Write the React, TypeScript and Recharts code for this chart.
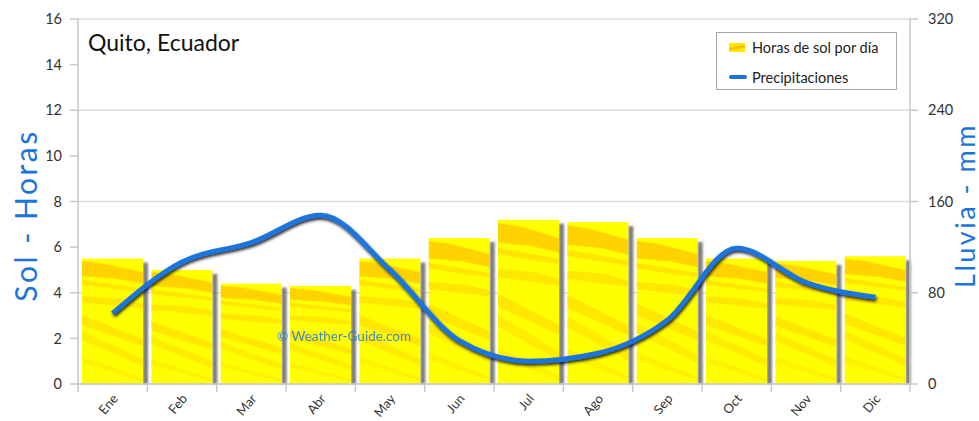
import React from "react";
import {
  ComposedChart,
  Bar,
  Line,
  XAxis,
  YAxis,
  CartesianGrid,
  Legend,
} from "recharts";

const months = ["Ene", "Feb", "Mar", "Abr", "May", "Jun", "Jul", "Ago", "Sep", "Oct", "Nov", "Dic"];
const sunHours = [5.5, 5.0, 4.4, 4.3, 5.5, 6.4, 7.2, 7.1, 6.4, 5.5, 5.4, 5.6];
const rainMm = [62, 107, 124, 148, 100, 38, 20, 27, 56, 119, 89, 76];
const hourTicks = [0, 2, 4, 6, 8, 10, 12, 14, 16];
const rainTicks = [0, 80, 160, 240, 320];

const data = months.map((month, i) => ({ month, sun: sunHours[i], rain: rainMm[i] }));

const WIDTH = 979;
const HEIGHT = 421;
const LEFT_AXIS = 78;
const RIGHT_AXIS = 69;
const BAND = (WIDTH - LEFT_AXIS - RIGHT_AXIS) / months.length;

const BLUE = "#1b74dc";
const FONT = "Lato, 'Open Sans', sans-serif";
const AXIS_GRAY = "#c9c9c9";

// bar with a soft grey drop shadow on its right side
const SunBar = (props: any) => {
  const { x, y, width, height } = props;
  if (!height || height <= 0) return null;
  return (
    <g>
      <rect
        x={x + width}
        y={y + 4}
        width={5}
        height={height - 4}
        fill="#7d7d7d"
        filter="url(#barShadowBlur)"
      />
      <rect x={x} y={y} width={width} height={height} fill="url(#sunFill)" />
    </g>
  );
};

const MonthTick = (props: any) => {
  const { x, y, payload, index } = props;
  const last = index === months.length - 1;
  return (
    <g>
      <line x1={x - BAND / 2} x2={x - BAND / 2} y1={y} y2={y + 8} stroke={AXIS_GRAY} strokeWidth={1.5} />
      {last && (
        <line x1={x + BAND / 2} x2={x + BAND / 2} y1={y} y2={y + 8} stroke={AXIS_GRAY} strokeWidth={1.5} />
      )}
      <text
        x={x + 6}
        y={y + 15}
        textAnchor="end"
        transform={`rotate(-50 ${x + 6} ${y + 15})`}
        fontSize={13}
        fill="#333"
        fontFamily={FONT}
      >
        {payload.value}
      </text>
    </g>
  );
};

// vertical axis title, reading bottom to top
const SideLabel = ({ viewBox, text, dx, dy, size }: any) => {
  const cx = viewBox.x + dx;
  const cy = viewBox.y + viewBox.height / 2 + dy;
  return (
    <text
      x={cx}
      y={cy}
      textAnchor="middle"
      dominantBaseline="central"
      transform={`rotate(-90 ${cx} ${cy})`}
      fontSize={size}
      letterSpacing={2.5}
      fill={BLUE}
      fontFamily={FONT}
    >
      {text}
    </text>
  );
};

const LegendBox = () => (
  <div
    style={{
      width: 181,
      height: 58,
      boxSizing: "border-box",
      border: "1px solid #a8a8a8",
      background: "#fff",
      fontFamily: FONT,
      fontSize: 14.5,
      color: "#222",
      padding: "3px 0 0 12px",
    }}
  >
    <div style={{ display: "flex", alignItems: "center", height: 22 }}>
      <span
        style={{
          display: "inline-block",
          width: 16,
          height: 9,
          marginRight: 7,
          background: "linear-gradient(170deg, #ffe600 0%, #ffe600 35%, #ffb400 50%, #ffe600 70%)",
        }}
      />
      Horas de sol por día
    </div>
    <div style={{ display: "flex", alignItems: "center", height: 22, marginTop: 8 }}>
      <span
        style={{
          display: "inline-block",
          width: 18,
          height: 4,
          marginRight: 5,
          borderRadius: 2,
          background: BLUE,
        }}
      />
      Precipitaciones
    </div>
  </div>
);

export default function App() {
  return (
    <div style={{ position: "relative", width: WIDTH, height: HEIGHT, background: "#fff" }}>
      <style>{"body { margin: 0; }"}</style>
      <ComposedChart
        width={WIDTH}
        height={HEIGHT}
        data={data}
        margin={{ top: 19, right: 0, bottom: 0, left: 0 }}
        barCategoryGap={4}
      >
        <defs>
          <pattern id="sunFill" patternContentUnits="objectBoundingBox" width="1" height="1">
            <rect x="0" y="0" width="1" height="1" fill="#ffff00" />
            <polygon points="0,0.02 0.35,0.04 1,0.11 1,0.2 0.55,0.16 0,0.14" fill="#ffa800" opacity="0.5" />
            <polygon points="0,0.17 1,0.24 1,0.27 0,0.21" fill="#ffb300" opacity="0.35" />
            <polygon points="0,0.3 0.6,0.32 1,0.36 1,0.4 0,0.35" fill="#ffc400" opacity="0.4" />
            <polygon points="0,0.45 1,0.64 1,0.7 0,0.53" fill="#ffb000" opacity="0.3" />
            <polygon points="0,0.58 1,0.8 1,0.86 0,0.65" fill="#ffb800" opacity="0.25" />
            <polygon points="0,0.78 1,0.95 1,0.98 0,0.83" fill="#ffc000" opacity="0.2" />
          </pattern>
          <filter id="barShadowBlur" x="-50%" y="-5%" width="200%" height="110%">
            <feGaussianBlur stdDeviation="0.8" />
          </filter>
          <filter id="lineShadow" x="-10%" y="-20%" width="120%" height="140%">
            <feDropShadow dx="1" dy="2" stdDeviation="1.4" floodColor="#000" floodOpacity="0.85" />
          </filter>
        </defs>
        <CartesianGrid
          yAxisId="rain"
          vertical={false}
          stroke="#dcdcdc"
          strokeWidth={1.5}
        />
        <XAxis
          dataKey="month"
          height={HEIGHT - 19 - 365}
          tickSize={0}
          tickMargin={0}
          tickLine={false}
          axisLine={{ stroke: AXIS_GRAY, strokeWidth: 1.5 }}
          tick={<MonthTick />}
          interval={0}
        />
        <YAxis
          yAxisId="sun"
          orientation="left"
          width={LEFT_AXIS}
          domain={[0, 16]}
          ticks={hourTicks}
          tickSize={8}
          tickMargin={8}
          tick={{ fontSize: 14.5, fill: "#333", fontFamily: FONT }}
          tickLine={{ stroke: AXIS_GRAY, strokeWidth: 1.5 }}
          axisLine={{ stroke: AXIS_GRAY, strokeWidth: 1.5 }}
          label={<SideLabel text="Sol - Horas" dx={25} dy={14} size={30} />}
        />
        <YAxis
          yAxisId="rain"
          orientation="right"
          width={RIGHT_AXIS}
          domain={[0, 320]}
          ticks={rainTicks}
          tickSize={8}
          tickMargin={10}
          tick={{ fontSize: 14.5, fill: "#333", fontFamily: FONT, textAnchor: "start" }}
          tickLine={{ stroke: AXIS_GRAY, strokeWidth: 1.5 }}
          axisLine={{ stroke: AXIS_GRAY, strokeWidth: 1.5 }}
          label={<SideLabel text="Lluvia - mm" dx={54} dy={4} size={27} />}
        />
        <Legend
          layout="vertical"
          align="center"
          verticalAlign="middle"
          wrapperStyle={{ top: 32, left: 716, width: 181 }}
          content={<LegendBox />}
        />
        <Bar
          yAxisId="sun"
          dataKey="sun"
          name="Horas de sol por día"
          shape={<SunBar />}
          isAnimationActive={false}
        />
        <Line
          yAxisId="rain"
          dataKey="rain"
          name="Precipitaciones"
          type="monotone"
          stroke={BLUE}
          strokeWidth={5}
          dot={false}
          activeDot={false}
          filter="url(#lineShadow)"
          isAnimationActive={false}
        />
      </ComposedChart>
      <div
        style={{
          position: "absolute",
          left: 88,
          top: 28,
          fontFamily: FONT,
          fontSize: 23,
          color: "#111",
        }}
      >
        Quito, Ecuador
      </div>
      <div
        style={{
          position: "absolute",
          left: 277,
          top: 328,
          fontFamily: FONT,
          fontSize: 13.5,
          color: "#2d7fd2",
          opacity: 0.9,
        }}
      >
        © Weather-Guide.com
      </div>
    </div>
  );
}
